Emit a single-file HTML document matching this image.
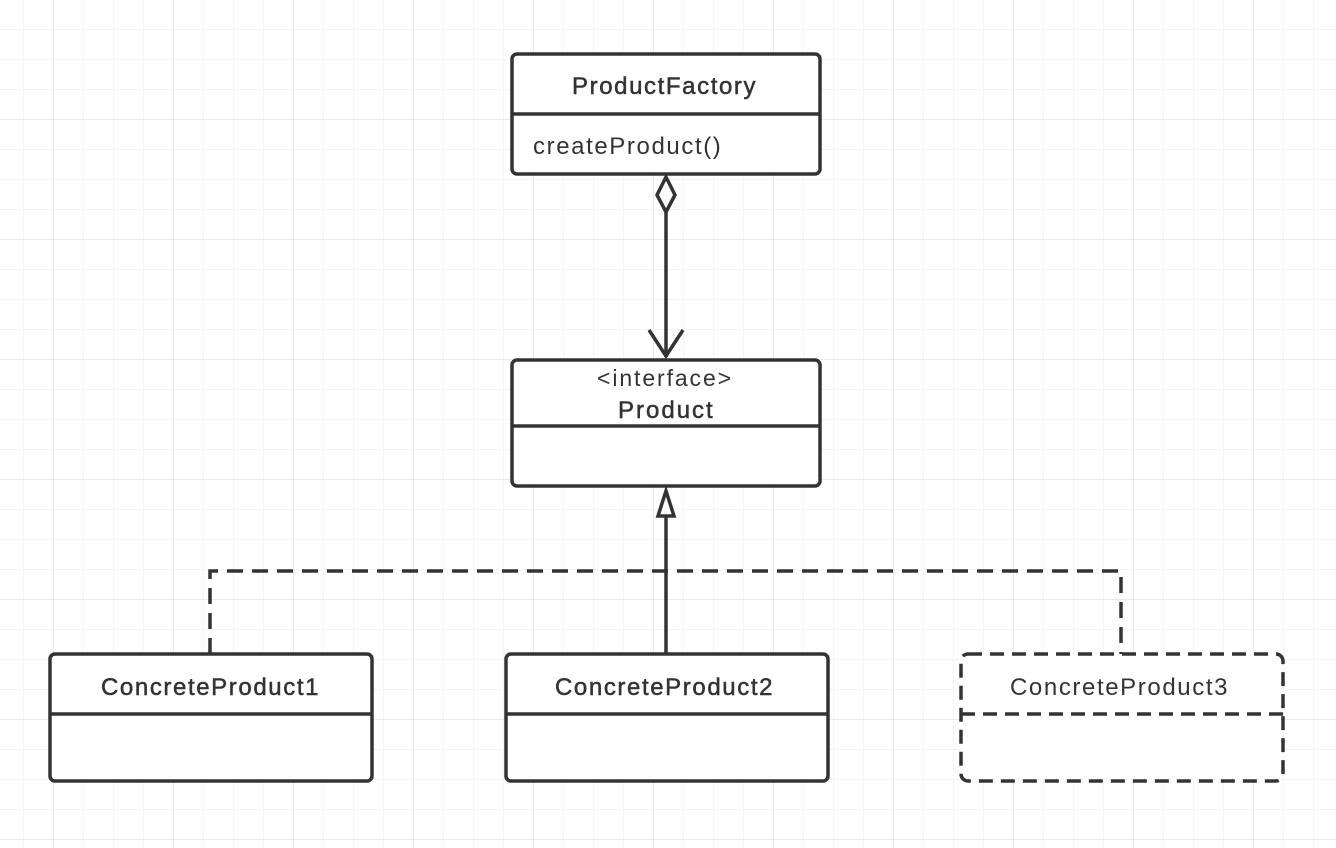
<!DOCTYPE html>
<html><head><meta charset="utf-8"><style>
html,body{margin:0;padding:0;background:#fff;}
svg{display:block;}
text{font-family:"Liberation Sans",sans-serif;fill:#333;}
</style></head><body>
<svg width="1336" height="848" viewBox="0 0 1336 848" xmlns="http://www.w3.org/2000/svg">
<defs>
<pattern id="g" x="23" y="29" width="30" height="30" patternUnits="userSpaceOnUse">
<path d="M0 0V30M0 0H30" stroke="#f0f0f0" stroke-width="1.5" fill="none"/>
</pattern>
<pattern id="G" x="53" y="119" width="120" height="120" patternUnits="userSpaceOnUse">
<path d="M0 0V120M0 0H120" stroke="#e6e6e6" stroke-width="1.5" fill="none"/>
</pattern>
</defs>
<rect width="1336" height="848" fill="url(#g)"/>
<rect width="1336" height="848" fill="url(#G)"/>

<g stroke="#333" stroke-width="3.5" fill="#fff">
<rect x="512" y="54" width="308" height="120" rx="5"/>
<line x1="512" y1="114" x2="820" y2="114"/>
<rect x="512" y="360" width="308" height="126" rx="5"/>
<line x1="512" y1="426" x2="820" y2="426"/>
<rect x="50" y="654" width="322" height="127" rx="5"/>
<line x1="50" y1="714" x2="372" y2="714"/>
<rect x="506" y="654" width="322" height="127" rx="5"/>
<line x1="506" y1="714" x2="828" y2="714"/>
<rect x="961" y="654" width="322" height="127" rx="7" stroke-dasharray="14 8"/>
<line x1="961" y1="714" x2="1283" y2="714" stroke-dasharray="14 8"/>
</g>

<g stroke="#333" stroke-width="3.5" fill="none">
<path d="M666 177 L675 195 L666 212 L657 195 Z" fill="#fff"/>
<line x1="666" y1="212" x2="666" y2="357"/>
<path d="M649 330 L666 356 L683 330"/>
<line x1="666" y1="516" x2="666" y2="654"/>
<path d="M666 491 L674 516 L658 516 Z" fill="#fff"/>
<path d="M210 654 V571 H1121 V654" stroke-dasharray="16 9"/>
</g>

<g font-size="24" stroke="#333" stroke-width="0.5" letter-spacing="1.6">
<text x="572" y="94">ProductFactory</text>
<text x="618" y="418" letter-spacing="2">Product</text>
<text x="101" y="695">ConcreteProduct1</text>
<text x="555" y="695">ConcreteProduct2</text>
</g>
<text x="1010" y="695" font-size="24" letter-spacing="1.6">ConcreteProduct3</text>
<text x="597" y="386" font-size="23" letter-spacing="1.9">&lt;interface&gt;</text>
<text x="533" y="154" font-size="24" letter-spacing="1.6">createProduct()</text>
</svg>
</body></html>
